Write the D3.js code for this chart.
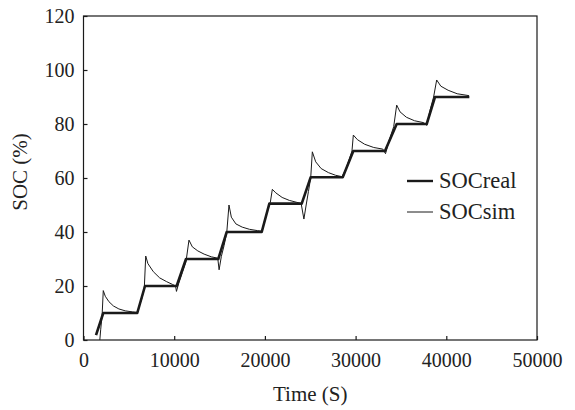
<!DOCTYPE html>
<html><head><meta charset="utf-8">
<script src="https://cdn.jsdelivr.net/npm/d3@7"></script>
<style>
body{margin:0;background:#fff;}
text{font-family:"Liberation Serif","Times New Roman",serif;fill:#222;}
</style></head><body>
<svg id="c" width="575" height="410"></svg>
<script>
const xTicks = [0, 10000, 20000, 30000, 40000, 50000];
const yTicks = [0, 20, 40, 60, 80, 100, 120];
const seriesNames = ["SOCreal", "SOCsim"];

const realT = [1380, 2180, 5930, 6780, 10270, 11300, 14860, 15790, 19650, 20490, 24060, 25050, 28580, 29750, 33240, 34530, 37840, 38750, 42540];
const realV = [1.8, 10, 10, 20, 20, 30, 30, 40, 40, 50.5, 50.5, 60.3, 60.3, 70, 70, 80, 80, 90, 90];

const simT = [1800, 1900, 2050, 2180, 2400, 2800, 3300, 3900, 4600, 5400, 5900,
  6100, 6400, 6700, 6860, 7100, 7700, 8400, 9170, 9800, 10150, 10250,
  10500, 10900, 11300, 11630, 12000, 12600, 13300, 14100, 14800, 14950,
  15200, 15500, 15800, 16040, 16300, 16800, 17500, 18300, 19200, 19700,
  19950, 20300, 20600, 20820, 21200, 21900, 22700, 23500, 24000, 24300,
  24550, 24800, 25050, 25230, 25600, 26200, 27000, 27800, 28500,
  28900, 29300, 29600, 29750, 30200, 31000, 32000, 33000, 33300,
  33700, 34200, 34530, 34900, 35600, 36500, 37500, 37850,
  38200, 38600, 38940, 39400, 40200, 41200, 42500];
const simV = [0, 4, 9, 18.3, 16.2, 14.2, 12.6, 11.5, 10.8, 10.4, 10.2,
  12, 15, 19, 31.1, 28.3, 25.3, 23, 21.6, 20.6, 20, 18,
  21, 25, 29, 37, 34.5, 33, 31.8, 30.8, 30.3, 26,
  31, 35, 40, 50, 45.5, 43, 41.8, 41, 40.5, 40.3,
  44, 48, 51, 55.8, 54.5, 52.8, 51.7, 51, 50.5, 44.8,
  50, 55, 60, 69.7, 66, 63.5, 62, 61, 60.5,
  63, 67, 70, 75.9, 74.2, 72.5, 71.3, 70.7, 69,
  74, 79, 87, 84.5, 82.5, 81.2, 80.5, 79.5,
  85, 90, 96.3, 94, 92.5, 91.2, 90.5];

const svg = d3.select("#c");
const L = 83.5, R = 537, T = 16, B = 340;
const x = d3.scaleLinear().domain([0, 50000]).range([L, R]);
const y = d3.scaleLinear().domain([0, 120]).range([B, T]);
const col = "#1a1a1a";

// frame
svg.append("rect").attr("x", L).attr("y", T).attr("width", R - L).attr("height", B - T)
  .attr("fill", "none").attr("stroke", col).attr("stroke-width", 1.2);

const xa = svg.append("g").attr("transform", `translate(0,${B})`)
  .call(d3.axisBottom(x).tickValues(xTicks).tickSizeInner(-4).tickSizeOuter(0).tickPadding(13).tickFormat(d3.format("d")));
const ya = svg.append("g").attr("transform", `translate(${L},0)`)
  .call(d3.axisLeft(y).tickValues(yTicks).tickSizeInner(-4).tickSizeOuter(0).tickPadding(9).tickFormat(d3.format("d")));
[xa, ya].forEach(a => {
  a.select(".domain").remove();
  a.selectAll("line").attr("stroke", col).attr("stroke-width", 1.2);
  a.selectAll("text").style("font-family", '"Liberation Serif",serif').style("font-size", "20px").attr("fill", "#222");
});

const real = realT.map((t, i) => [t, realV[i]]);
const sim = simT.map((t, i) => [t, simV[i]]);
const line = d3.line().x(d => x(d[0])).y(d => y(d[1]));

svg.append("path").datum(sim).attr("d", line).attr("fill", "none").attr("stroke", col).attr("stroke-width", 1);
svg.append("path").datum(real).attr("d", line).attr("fill", "none").attr("stroke", col).attr("stroke-width", 2.6).attr("stroke-linejoin", "round");

// legend
const lg = svg.append("g");
seriesNames.forEach((n, i) => {
  const yy = 181 + i * 31;
  lg.append("line").attr("x1", 407).attr("x2", 433).attr("y1", yy).attr("y2", yy)
    .attr("stroke", col).attr("stroke-width", i === 0 ? 2.4 : 1);
  lg.append("text").attr("x", 439).attr("y", yy + 7).style("font-size", "22.5px").text(n);
});

svg.append("text").attr("x", (L + R) / 2).attr("y", 401).attr("text-anchor", "middle")
  .style("font-size", "21px").text("Time (S)");
svg.append("text").attr("transform", `translate(27,172) rotate(-90)`).attr("text-anchor", "middle")
  .style("font-size", "21px").text("SOC (%)");
</script></body></html>
